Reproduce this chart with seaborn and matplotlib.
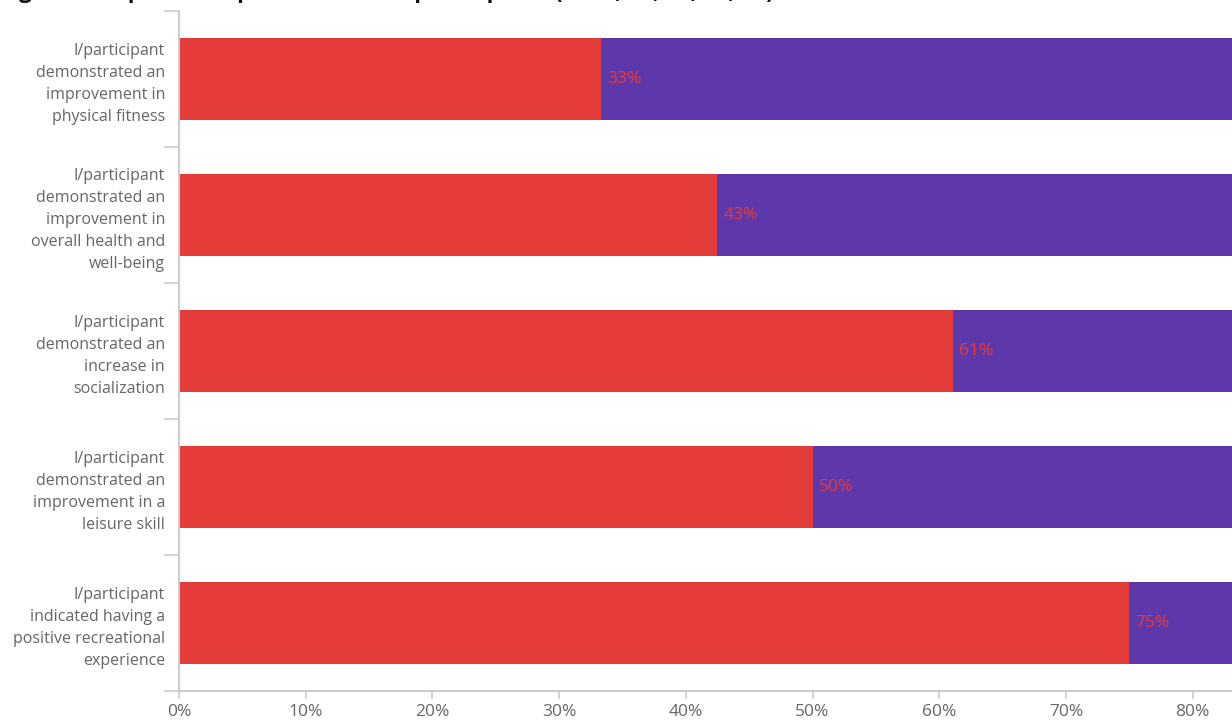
import matplotlib
matplotlib.use("Agg")
import matplotlib.pyplot as plt
import seaborn as sns
import pandas as pd
import numpy as np

categories = [
    "I/participant\ndemonstrated an\nimprovement in\nphysical fitness",
    "I/participant\ndemonstrated an\nimprovement in\noverall health and\nwell-being",
    "I/participant\ndemonstrated an\nincrease in\nsocialization",
    "I/participant\ndemonstrated an\nimprovement in a\nleisure skill",
    "I/participant\nindicated having a\npositive recreational\nexperience",
]
yes_values = [33.3, 42.5, 61.1, 50.0, 75.0]
no_values = [66.7, 57.5, 38.9, 50.0, 25.0]
bar_labels = ["33%", "43%", "61%", "50%", "75%"]
x_ticks = [0, 10, 20, 30, 40, 50, 60, 70, 80, 90, 100]
title = "Figure 4: Reported improvements for participants (n=12, 14, 18, 16, 12)"

RED = "#E43C39"
PURPLE = "#5E38AB"
GREY = "#666666"
AXIS = "#CCCCCC"

sns.set_theme(style="white")
plt.rcParams["font.family"] = ["Open Sans", "DejaVu Sans"]

df = pd.DataFrame({
    "category": categories,
    "yes": yes_values,
    "total": [a + b for a, b in zip(yes_values, no_values)],
})

fig = plt.figure(figsize=(12.32, 7.21), dpi=100)
W, H = 1232, 721
left, right, top, bottom = 179, 179 + 1267, 11, 691
ax = fig.add_axes([left / W, (H - bottom) / H, (right - left) / W, (bottom - top) / H])

sns.barplot(data=df, y="category", x="total", color=PURPLE, orient="h",
            width=0.61, ax=ax, saturation=1, linewidth=0)
sns.barplot(data=df, y="category", x="yes", color=RED, orient="h",
            width=0.61, ax=ax, saturation=1, linewidth=0)

for i, (v, lab) in enumerate(zip(yes_values, bar_labels)):
    ax.text(v + 0.5, i, lab, color=RED, fontsize=12.5, va="center", ha="left")

ax.set_xlim(0, 100)
ax.set_ylim(4.5, -0.5)
ax.set_xticks(x_ticks)
ax.set_xticklabels([f"{t}%" for t in x_ticks], color=GREY, fontsize=12.5)
ax.set_yticks(range(len(categories)))
ax.set_yticklabels(categories, color=GREY, fontsize=11.5, linespacing=1.5)
ax.set_yticks(np.arange(-0.5, 5.0, 1.0), minor=True)
ax.tick_params(axis="y", which="major", length=0, pad=10)
ax.tick_params(axis="y", which="minor", length=11, width=1.2, color=AXIS, left=True)
ax.tick_params(axis="x", which="major", length=6, width=1.2, color=AXIS, pad=3, bottom=True)
ax.set_xlabel("")
ax.set_ylabel("")
for s in ["top", "right"]:
    ax.spines[s].set_visible(False)
for s in ["left", "bottom"]:
    ax.spines[s].set_color(AXIS)
    ax.spines[s].set_linewidth(1.5)

fig.text(0.0, 1.0 + 2.0 / H, title, fontsize=16, fontweight="bold",
         color="#111111", ha="left", va="baseline")

fig.savefig("out.png", dpi=100)
